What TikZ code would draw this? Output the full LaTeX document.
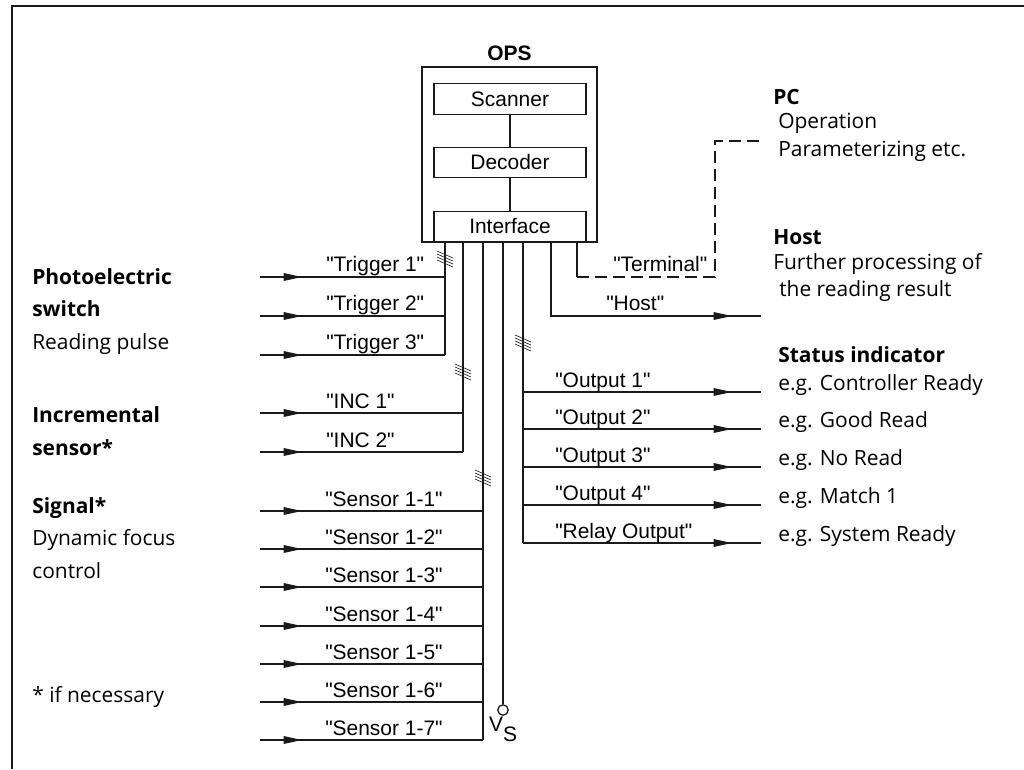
\documentclass[tikz,border=0pt]{standalone}
\usepackage{fontspec}
\setmainfont{Liberation Sans}
\newfontfamily\notefont{Open Sans}
\usetikzlibrary{arrows.meta,decorations.markings}
\definecolor{OpsInk}{HTML}{1A1A1A}
\newcommand\quoted[1]{\textquotedbl#1\textquotedbl}

\tikzset{
  bundle/.pic={\foreach \k in {0,...,3}
      \draw[OpsInk,line width=0.45pt] (-8,{3*\k-8}) -- (8,{3*\k-1});},
}

\begin{document}
\begin{tikzpicture}[
    x=0.25mm, y=-0.25mm,
    font=\fontsize{14.9}{21}\selectfont,
    block/.style={draw=OpsInk,line width=0.9pt,minimum width=38mm,minimum height=7.6mm,inner sep=0pt},
    wire/.style={OpsInk,line width=0.9pt},
    sigin/.style={wire,postaction={decorate,decoration={markings,
        mark=at position 10.5mm with {\arrow{Triangle[length=4.6mm,width=1.9mm]}}}}},
    sigout/.style={wire,postaction={decorate,decoration={markings,
        mark=at position -7.25mm with {\arrow{Triangle[length=4.6mm,width=1.9mm]}}}}},
    lbl/.style={anchor=base west,inner sep=0pt},
    desc/.style={anchor=base west,inner sep=0pt,align=left,font=\notefont\fontsize{14.9}{22.8}\selectfont},
  ]
  \useasboundingbox (0,0) rectangle (1024,769);
  \draw[OpsInk,line width=1.5pt] (12,769) -- (12,6) -- (1024,6);

  % the OPS with its three units
  \node (opslbl) at (509.5,53) {\textbf{OPS}};
  \node[block,minimum width=43.75mm,minimum height=43.75mm] (ops) at (509.5,154.5) {};
  \node[block] (scan) at (510,99) {Scanner};
  \node[block] (dec) at (510,162.5) {Decoder};
  \node[block] (ifc) at (510,226.5) {Interface};
  \draw[wire] (scan) -- (dec);
  \draw[wire] (dec) -- (ifc);

  % buses leaving the interface
  \foreach \n/\x/\y in {trg/445/355, inc/463/452, sen/483/740, out/523/543}{
    \coordinate (\n top) at (\x,242);
    \coordinate (\n end) at (\x,\y);
    \draw[wire] (\n top) -- (\n end);
  }
  \pic at (445,259) {bundle};
  \pic at (463,372) {bundle};
  \pic at (483,478) {bundle};
  \pic at (523,343) {bundle};

  % inputs
  \foreach \i/\y in {1/277,2/316,3/355}{
    \coordinate (trg\i) at (260,\y);
    \draw[sigin] (trg\i) -- (trg\i -| trgtop);
    \node[lbl] (trglbl\i) at (326,\y-6) {\quoted{Trigger \i}};
  }
  \foreach \i/\y in {1/413,2/452}{
    \coordinate (inc\i) at (260,\y);
    \draw[sigin] (inc\i) -- (inc\i -| inctop);
    \node[lbl] (inclbl\i) at (326,\y-5) {\quoted{INC \i}};
  }
  \foreach \i/\y in {1/511,2/549,3/587,4/626,5/664,6/702,7/740}{
    \coordinate (sen\i) at (260,\y);
    \draw[sigin] (sen\i) -- (sen\i -| sentop);
    \node[lbl] (senlbl\i) at (325,\y-5) {\quoted{Sensor 1-\i}};
  }

  % supply
  \coordinate (vstop) at (503,242);
  \node[circle,draw=OpsInk,line width=0.9pt,minimum size=2.6mm,inner sep=0pt] (vs) at (503,710) {};
  \draw[wire] (vstop) -- (vs);
  \node[lbl,anchor=base] (vslbl) at (503,731) {V\raisebox{-2.5mm}{S}};

  % outputs
  \foreach \i/\t/\d/\y in {1/Output 1/Controller Ready/392, 2/Output 2/Good Read/429,
      3/Output 3/No Read/467, 4/Output 4/Match 1/505, 5/Relay Output/System Ready/543}{
    \coordinate (out\i) at (761,\y);
    \draw[sigout] (out\i -| outtop) -- (out\i);
    \node[lbl] (outlbl\i) at (555,\y-5) {\quoted{\t}};
    \node[desc] (outdesc\i) at (778,\y-2) {e.g. \d};
  }

  % host and terminal
  \coordinate (hosttop) at (551,242);
  \coordinate (hostend) at (761,316);
  \draw[sigout] (hosttop) |- (hostend);
  \node[lbl] (hostlbl) at (606,310) {\quoted{Host}};
  \coordinate (termtop) at (577,242);
  \coordinate (termbend) at (577,277);
  \coordinate (termcorner) at (715,277);
  \coordinate (pcbend) at (715,141);
  \coordinate (pcend) at (760,141);
  \draw[wire] (termtop) -- (termbend);
  \draw[wire,dash pattern=on 3mm off 1.5mm] (termbend) -- (termcorner) -- (pcbend) -- (pcend);
  \node[lbl] (termlbl) at (613,271) {\quoted{Terminal}};

  % texts on the right (base = last line)
  \node[desc] (pchead) at (773,104) {\textbf{PC}};
  \node[desc,font=\notefont\fontsize{14.9}{19.5}\selectfont] (pcbody) at (778,156) {Operation\\Parameterizing etc.};
  \node[desc] (hosthead) at (773,244) {\textbf{Host}};
  \node[desc,font=\notefont\fontsize{14.9}{19}\selectfont] (hostbody) at (773,296) {Further processing of\\\hspace*{1.5mm}the reading result};
  \node[desc] (stathead) at (778,362) {\textbf{Status indicator}};

  % texts on the left (base = last line)
  \node[desc] (photo) at (32,349) {\textbf{Photoelectric}\\\textbf{switch}\\Reading pulse};
  \node[desc] (incr) at (32,455) {\textbf{Incremental}\\\textbf{sensor*}};
  \node[desc] (signal) at (32,578) {\textbf{Signal*}\\Dynamic focus\\control};
  \node[desc] (ifnec) at (32,702) {* if necessary};
\end{tikzpicture}
\end{document}
